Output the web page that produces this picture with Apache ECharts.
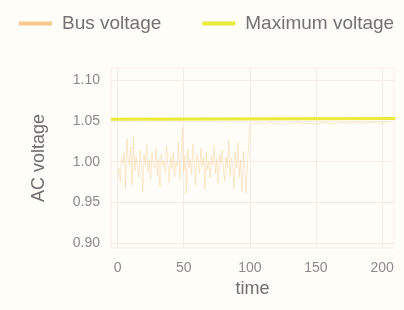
<!DOCTYPE html>
<html>
<head>
    <meta charset="UTF-8">
    <title>AC voltage</title>
    <script src="https://cdn.jsdelivr.net/npm/echarts@6/dist/echarts.min.js"></script>
    <style>
        body, html {
            margin: 0;
            padding: 0;
            background: #fffdf8;
        }
        #chart {
            width: 404px;
            height: 310px;
        }
    </style>
</head>
<body>
<div id="chart"></div>
<script>
    // bus voltage, one sample per time step from t = 0
    var busVoltage = [
        0.985, 0.992, 0.975, 1.005, 0.998, 1.012, 0.968, 1.028, 1.002, 0.995,
        1.018, 0.972, 1.031, 0.989, 1.006, 0.994, 0.981, 1.014, 0.999, 0.963,
        1.008, 0.996, 1.021, 0.987, 1.003, 0.978, 1.011, 0.997, 0.992, 1.016,
        0.983, 1.004, 0.969, 1.009, 0.995, 1.001, 0.986, 1.019, 0.998, 0.974,
        1.006, 0.991, 1.012, 0.982, 1.000, 0.995, 1.024, 0.979, 1.002, 1.042,
        0.988, 1.008, 0.961, 1.015, 0.993, 1.003, 0.984, 1.022, 0.997, 0.971,
        1.010, 0.999, 0.986, 1.017, 0.994, 1.005, 0.966, 1.012, 0.990, 1.001,
        0.980, 1.007, 0.996, 1.020, 0.985, 1.003, 0.973, 1.009, 0.998, 1.014,
        0.989, 0.976, 1.006, 0.993, 1.026, 0.982, 1.004, 0.997, 0.967, 1.011,
        0.992, 1.023, 0.981, 1.002, 0.964, 1.013, 0.995, 0.962
    ];
    // after t = 100 the bus sits just under the limit (every 5 steps)
    var busVoltageLate = [
        1.046, 1.047, 1.046, 1.048, 1.047, 1.046, 1.047, 1.048, 1.047, 1.047, 1.046,
        1.048, 1.047, 1.047, 1.048, 1.047, 1.048, 1.047, 1.048, 1.048, 1.047, 1.048
    ];
    var maxTimes = [-5, 210];
    var maxVoltage = [1.052, 1.053];
    var xTicks = [0, 50, 100, 150, 200];
    var yTicks = [0.90, 0.95, 1.00, 1.05, 1.10];

    var busData = [];
    for (var i = 0; i < busVoltage.length; i++) busData.push([i, busVoltage[i]]);
    for (var j = 0; j < busVoltageLate.length; j++) busData.push([100 + j * 5, busVoltageLate[j]]);
    var maxData = maxTimes.map(function (t, k) { return [t, maxVoltage[k]]; });

    var font = 'Liberation Sans';
    var chart = echarts.init(document.getElementById('chart'), null, {renderer: 'canvas'});
    chart.setOption({
        backgroundColor: '#fffdf8',
        animation: false,
        legend: {
            left: 14,
            top: 9,
            itemWidth: 33,
            itemHeight: 4,
            itemGap: 41,
            icon: 'rect',
            textStyle: {fontFamily: font, fontSize: 19, color: '#727272', padding: [0, 0, 0, 5]},
            data: ['Bus voltage', 'Maximum voltage']
        },
        grid: {
            left: 111, right: 10, top: 68, bottom: 62,
            show: true, borderColor: '#f6efe6', borderWidth: 1
        },
        xAxis: {
            type: 'value',
            min: -5,
            max: 209,
            name: 'time',
            nameLocation: 'middle',
            nameGap: 32,
            nameTextStyle: {fontFamily: font, fontSize: 18, color: '#6e6e6e'},
            axisLine: {show: false},
            axisTick: {show: false, customValues: xTicks},
            axisLabel: {customValues: xTicks, margin: 13, fontFamily: font, fontSize: 14, color: '#8a8a8a'},
            splitLine: {show: true, lineStyle: {color: '#f3ece4'}}
        },
        yAxis: {
            type: 'value',
            min: 0.894,
            max: 1.115,
            name: 'AC voltage',
            nameLocation: 'middle',
            nameGap: 63,
            nameTextStyle: {fontFamily: font, fontSize: 18, color: '#6e6e6e'},
            axisLine: {show: false},
            axisTick: {show: false, customValues: yTicks},
            axisLabel: {
                customValues: yTicks, margin: 11, fontFamily: font, fontSize: 14, color: '#8a8a8a',
                formatter: function (v) { return v.toFixed(2); }
            },
            splitLine: {show: true, lineStyle: {color: '#f3ece4'}}
        },
        series: [
            {
                name: 'Bus voltage',
                type: 'line',
                data: busData,
                showSymbol: false,
                color: '#f5c98c',
                lineStyle: {width: 1, opacity: 0.4}
            },
            {
                name: 'Maximum voltage',
                type: 'line',
                data: maxData,
                showSymbol: false,
                color: '#ebe93a',
                lineStyle: {width: 3}
            }
        ]
    });
</script>
</body>
</html>
